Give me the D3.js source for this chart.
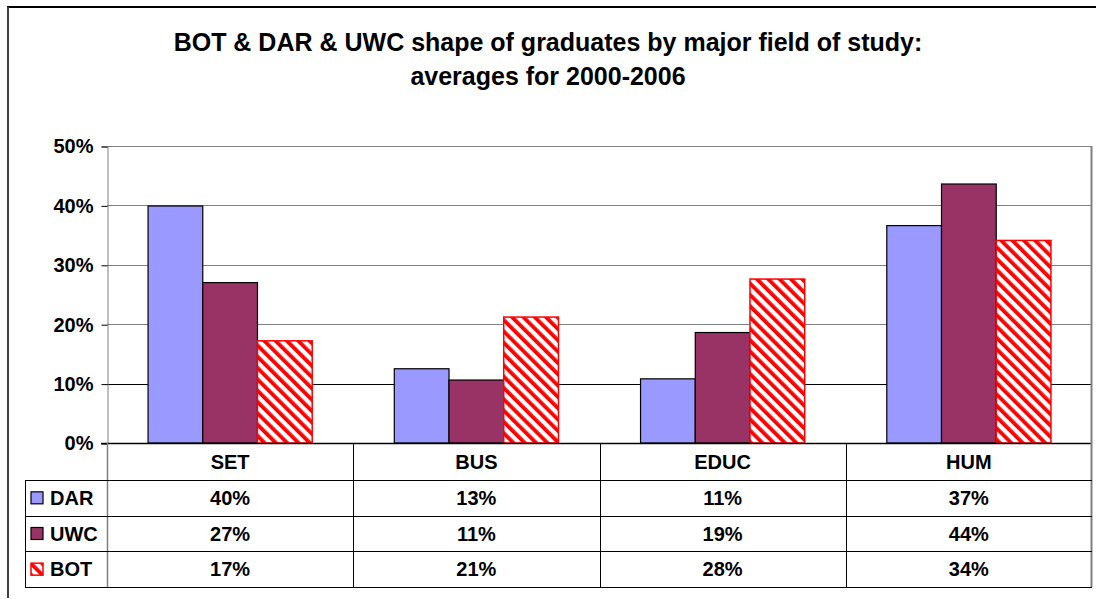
<!DOCTYPE html>
<html>
<head>
<meta charset="utf-8">
<script src="https://cdn.jsdelivr.net/npm/d3@7"></script>
<style>
  body { margin: 0; background: #fff; }
  text { font-family: "Liberation Sans", Arial, sans-serif; font-weight: bold; fill: #000; }
</style>
</head>
<body>
<div id="viz"></div>
<script>
// chart values
var categories = ["SET", "BUS", "EDUC", "HUM"];
var seriesNames = ["DAR", "UWC", "BOT"];
var darValues = [0.399, 0.125, 0.108, 0.366];
var uwcValues = [0.270, 0.106, 0.186, 0.436];
var botValues = [0.172, 0.212, 0.276, 0.341];
var yTicks = [0, 0.1, 0.2, 0.3, 0.4, 0.5];
var titleLines = ["BOT & DAR & UWC shape of graduates by major field of study:",
                  "averages for 2000-2006"];

var series = [
  {name: "DAR", values: darValues},
  {name: "UWC", values: uwcValues},
  {name: "BOT", values: botValues}
];

var width = 1096, height = 599;
var plot = {left: 107, right: 1092, top: 146, bottom: 443};
var table = {left: 25, headerBottom: 480, bottom: 587};
var labelSize = "20px";

var svg = d3.select("#viz").append("svg")
            .attr("width", width)
            .attr("height", height);

// hatch for BOT
var defs = svg.append("defs");
var pat = defs.append("pattern")
              .attr("id", "hatch")
              .attr("patternUnits", "userSpaceOnUse")
              .attr("width", 8)
              .attr("height", 10)
              .attr("patternTransform", "rotate(-45)");
pat.append("rect").attr("width", 8).attr("height", 10).attr("fill", "#fff");
pat.append("rect").attr("width", 3.8).attr("height", 10).attr("fill", "#ff0000");

var fillFor = {"DAR": "#9999ff", "UWC": "#993366", "BOT": "url(#hatch)"};
var strokeFor = {"DAR": "#000", "UWC": "#000", "BOT": "#ff0000"};

// outer frame
svg.append("line").attr("x1", 7).attr("x2", width).attr("y1", 7).attr("y2", 7)
   .attr("stroke", "#000").attr("stroke-width", 2);
svg.append("line").attr("x1", 8).attr("x2", 8).attr("y1", 7).attr("y2", 598)
   .attr("stroke", "#404040").attr("stroke-width", 2);

// title
svg.selectAll("text.title")
   .data(titleLines)
   .enter().append("text")
   .attr("class", "title")
   .attr("x", width / 2)
   .attr("y", function(d, i) { return 51 + i * 34; })
   .attr("text-anchor", "middle")
   .style("font-size", "25px")
   .text(function(d) { return d; });

// scales
var x = d3.scaleBand()
          .domain(categories)
          .range([plot.left, plot.right])
          .paddingInner(1 / 3)
          .paddingOuter(1 / 6);
var xCol = d3.scaleBand().domain(categories).range([plot.left, plot.right]);
var xInner = d3.scaleBand().domain(seriesNames).range([0, x.bandwidth()]);
var y = d3.scaleLinear().domain([0, 0.5]).range([plot.bottom, plot.top]);
var rowY = d3.scaleBand().domain(seriesNames).range([table.headerBottom, table.bottom]);

// gridlines
svg.selectAll("line.grid")
   .data(yTicks.filter(function(d) { return d > 0; }))
   .enter().append("line")
   .attr("class", "grid")
   .attr("x1", plot.left).attr("x2", plot.right)
   .attr("y1", function(d) { return Math.round(y(d)) + 0.5; })
   .attr("y2", function(d) { return Math.round(y(d)) + 0.5; })
   .attr("stroke", function(d) { return d === 0.1 ? "#000" : "#808080"; });

// y axis
var yAxis = d3.axisLeft(y)
              .tickValues(yTicks)
              .tickFormat(d3.format(".0%"))
              .tickSize(6)
              .tickPadding(8);
var gy = svg.append("g")
            .attr("transform", "translate(" + (plot.left + 0.5) + ",0.5)")
            .call(yAxis);
gy.select(".domain").attr("stroke", "#808080");
gy.selectAll(".tick line").attr("stroke", "#000");
gy.selectAll(".tick text")
  .style("font-size", labelSize)
  .style("font-family", "'Liberation Sans', Arial, sans-serif")
  .style("font-weight", "bold")
  .attr("fill", "#000");

// bars
var groups = svg.selectAll("g.series")
                .data(series)
                .enter().append("g")
                .attr("class", "series");
groups.selectAll("rect")
      .data(function(s) {
        return s.values.map(function(v, i) { return {name: s.name, cat: categories[i], v: v}; });
      })
      .enter().append("rect")
      .attr("x", function(d) { return x(d.cat) + xInner(d.name); })
      .attr("y", function(d) { return y(d.v); })
      .attr("width", xInner.bandwidth())
      .attr("height", function(d) { return y(0) - y(d.v); })
      .attr("fill", function(d) { return fillFor[d.name]; })
      .attr("stroke", function(d) { return strokeFor[d.name]; })
      .attr("stroke-width", function(d) { return d.name === "BOT" ? 1.5 : 1.2; });

// baseline
svg.append("line")
   .attr("x1", plot.left - 6).attr("x2", plot.right)
   .attr("y1", plot.bottom + 0.5).attr("y2", plot.bottom + 0.5)
   .attr("stroke", "#000").attr("stroke-width", 1.5);

// right edge of plot and table
svg.append("line")
   .attr("x1", plot.right - 0.5).attr("x2", plot.right - 0.5)
   .attr("y1", plot.top).attr("y2", table.bottom)
   .attr("stroke", "#808080").attr("stroke-width", 2);

// data table: column separators
svg.selectAll("line.colsep")
   .data(categories.slice(1))
   .enter().append("line")
   .attr("class", "colsep")
   .attr("x1", function(d) { return Math.round(xCol(d)) + 0.5; })
   .attr("x2", function(d) { return Math.round(xCol(d)) + 0.5; })
   .attr("y1", plot.bottom).attr("y2", table.bottom)
   .attr("stroke", "#000");
svg.append("line")
   .attr("x1", plot.left + 0.5).attr("x2", plot.left + 0.5)
   .attr("y1", plot.bottom).attr("y2", table.bottom)
   .attr("stroke", "#808080").attr("stroke-width", 1.5);
svg.append("line")
   .attr("x1", table.left + 0.5).attr("x2", table.left + 0.5)
   .attr("y1", table.headerBottom).attr("y2", table.bottom)
   .attr("stroke", "#000");

// row lines
var rowEdges = seriesNames.map(function(s) { return rowY(s); }).concat([table.bottom]);
svg.selectAll("line.rowsep")
   .data(rowEdges)
   .enter().append("line")
   .attr("class", "rowsep")
   .attr("x1", table.left).attr("x2", plot.right)
   .attr("y1", function(d) { return Math.round(d) + 0.5; })
   .attr("y2", function(d) { return Math.round(d) + 0.5; })
   .attr("stroke", "#000");

// category header
svg.selectAll("text.cat")
   .data(categories)
   .enter().append("text")
   .attr("class", "cat")
   .attr("x", function(d) { return xCol(d) + xCol.bandwidth() / 2; })
   .attr("y", (plot.bottom + table.headerBottom) / 2)
   .attr("dy", "0.36em")
   .attr("text-anchor", "middle")
   .style("font-size", labelSize)
   .text(function(d) { return d; });

// legend keys + values
var rows = svg.selectAll("g.row")
              .data(series)
              .enter().append("g")
              .attr("class", "row")
              .attr("transform", function(d) {
                return "translate(0," + (rowY(d.name) + rowY.bandwidth() / 2) + ")";
              });
rows.append("rect")
    .attr("x", 31).attr("y", -6)
    .attr("width", 12).attr("height", 12)
    .attr("fill", function(d) { return fillFor[d.name]; })
    .attr("stroke", function(d) { return strokeFor[d.name]; })
    .attr("stroke-width", function(d) { return d.name === "BOT" ? 1.5 : 1.2; });
rows.append("text")
    .attr("x", 50)
    .attr("dy", "0.36em")
    .style("font-size", labelSize)
    .text(function(d) { return d.name; });
rows.selectAll("text.val")
    .data(function(d) { return d.values; })
    .enter().append("text")
    .attr("class", "val")
    .attr("x", function(d, i) { return xCol(categories[i]) + xCol.bandwidth() / 2; })
    .attr("dy", "0.36em")
    .attr("text-anchor", "middle")
    .style("font-size", labelSize)
    .text(function(d) { return d3.format(".0%")(d); })
</script>
</body>
</html>
